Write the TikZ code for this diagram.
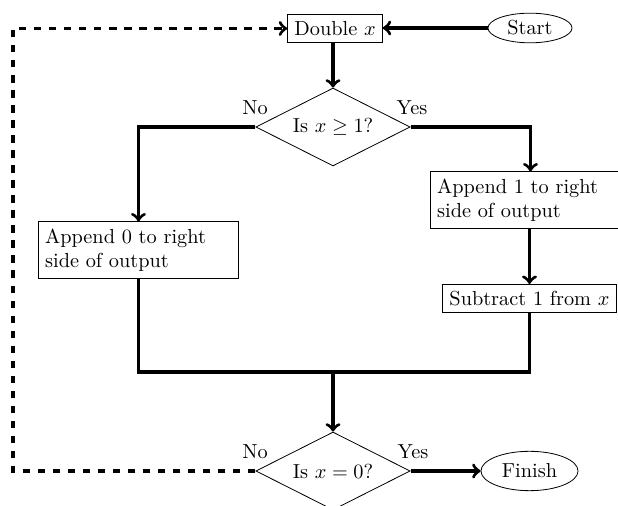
\documentclass[tikz,border=0pt]{standalone}
\usetikzlibrary{shapes.geometric,calc}
\begin{document}
\begin{tikzpicture}[x=0.4926pt,y=-0.4926pt,
  flowbox/.style={draw,line width=0.4pt,rectangle,inner sep=3.333pt},
  wrapbox/.style={flowbox,text width=92pt,align=left},
  ovalnode/.style={draw,line width=0.4pt,ellipse},
  decision/.style={draw,line width=0.4pt,diamond,aspect=2,inner sep=1pt,minimum width=76pt,minimum height=38.4pt},
  flow/.style={line width=1.6pt,->},
  loopback/.style={line width=1.6pt,->,dash pattern=on 3.6pt off 3.8pt},
  lbl/.style={inner sep=0pt}]
\useasboundingbox (0,0) rectangle (618,506);
\node[flowbox] (dbl) at (335,28.5) {Double $x$};
\node[ovalnode,inner sep=0pt,minimum width=41.4pt,minimum height=14.6pt] (start) at (530,28) {Start};
\node[decision] (d1) at (333,127) {Is $x \geq 1$?};
\node[wrapbox] (app0) at (138.5,250) {Append 0 to right\\side of output};
\node[wrapbox] (app1) at (530.5,200) {Append 1 to right\\side of output};
\node[flowbox] (sub) at (529.5,298.5) {Subtract 1 from $x$};
\node[decision] (d2) at (333,471) {Is $x = 0$?};
\node[ovalnode] (fin) at (529.5,471) {Finish};
\node[lbl] (no1) at (255,108) {No};
\node[lbl] (yes1) at (412,108) {Yes};
\node[lbl] (no2) at (255,452) {No};
\node[lbl] (yes2) at (413,452) {Yes};
\coordinate (m) at (333,372);
\coordinate (lc) at (13,250);
\draw[flow] (start) -- (dbl.east |- start);
\draw[flow] (d1.north |- dbl.south) -- (d1.north);
\draw[flow] (d1.west) -| (app0.north);
\draw[flow] (d1.east) -| (app1.north);
\draw[flow] (app1.south -| sub.north) -- (sub.north);
\draw[line width=1.6pt] (app0.south) |- (m) -| (sub.south);
\draw[flow] (m) -- (d2.north);
\draw[flow] (d2.east) -- (fin.west);
\draw[loopback] (d2.west) -- (d2.west -| lc) |- (dbl.west);
\end{tikzpicture}
\end{document}
